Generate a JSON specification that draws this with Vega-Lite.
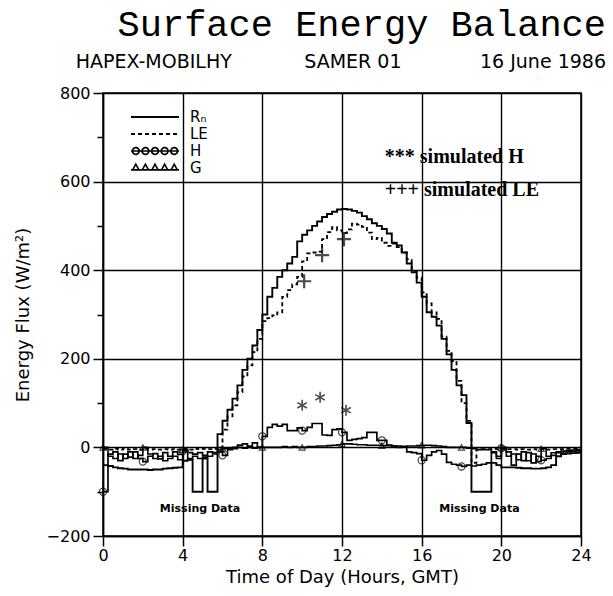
{
  "$schema": "https://vega.github.io/schema/vega-lite/v6.json",
  "width": 478,
  "height": 443,
  "autosize": {"type": "none"},
  "padding": {"left": 103, "top": 93, "right": 32, "bottom": 60},
  "background": "white",
  "config": {
    "view": {"stroke": "black", "strokeWidth": 1.5},
    "font": "DejaVu Sans",
    "axis": {
      "domainColor": "black", "domainWidth": 1.5, "tickColor": "black", "tickWidth": 1.5,
      "gridColor": "black", "gridWidth": 1.4,
      "labelColor": "black", "labelFont": "DejaVu Sans", "labelFontSize": 16,
      "titleColor": "black", "titleFont": "DejaVu Sans", "titleFontSize": 18, "titleFontWeight": "normal"
    }
  },
  "title": {
    "text": "Surface Energy Balance",
    "subtitle": "HAPEX-MOBILHY\u00a0\u00a0\u00a0\u00a0\u00a0\u00a0\u00a0\u00a0\u00a0\u00a0\u00a0\u00a0SAMER 01\u00a0\u00a0\u00a0\u00a0\u00a0\u00a0\u00a0\u00a0\u00a0\u00a0\u00a0\u00a0\u00a016 June 1986",
    "font": "Liberation Mono", "fontSize": 37, "fontWeight": "normal", "color": "black",
    "subtitleFont": "DejaVu Sans", "subtitleFontSize": 19, "subtitleColor": "black",
    "subtitlePadding": 9, "anchor": "end", "frame": "group", "offset": 12, "dx": 25
  },
  "datasets": {
    "flux": [
      {"t": 0, "Rn": -40, "LE": -3, "H": -100, "G": 0},
      {"t": 0.25, "Rn": -42, "LE": -5, "H": -15, "G": -20},
      {"t": 0.5, "Rn": -45, "LE": -3, "H": -10, "G": -25},
      {"t": 0.75, "Rn": -47, "LE": -5, "H": -30, "G": -15},
      {"t": 1, "Rn": -48, "LE": -3, "H": -15, "G": -25},
      {"t": 1.25, "Rn": -50, "LE": -5, "H": -22, "G": -10},
      {"t": 1.5, "Rn": -50, "LE": -4, "H": -10, "G": -25},
      {"t": 1.75, "Rn": -50, "LE": -5, "H": -25, "G": -18},
      {"t": 2, "Rn": -50, "LE": -3, "H": -32, "G": 0},
      {"t": 2.25, "Rn": -51, "LE": -5, "H": -20, "G": -15},
      {"t": 2.5, "Rn": -50, "LE": -4, "H": -14, "G": -25},
      {"t": 2.75, "Rn": -50, "LE": -5, "H": -26, "G": -20},
      {"t": 3, "Rn": -48, "LE": -4, "H": -12, "G": -30},
      {"t": 3.25, "Rn": -47, "LE": -5, "H": -20, "G": -25},
      {"t": 3.5, "Rn": -46, "LE": -4, "H": -10, "G": -20},
      {"t": 3.75, "Rn": -45, "LE": -5, "H": -16, "G": -28},
      {"t": 4, "Rn": -30, "LE": -3, "H": -8, "G": -5},
      {"t": 4.25, "Rn": -28, "LE": -5, "H": -12, "G": -25},
      {"t": 4.5, "Rn": -100, "LE": -3, "H": -15, "G": -20},
      {"t": 4.75, "Rn": -100, "LE": -4, "H": -12, "G": -25},
      {"t": 5, "Rn": -25, "LE": -3, "H": -18, "G": -22},
      {"t": 5.25, "Rn": -100, "LE": -4, "H": -10, "G": -20},
      {"t": 5.5, "Rn": -100, "LE": -3, "H": -12, "G": -15},
      {"t": 5.75, "Rn": 30, "LE": 0, "H": -5, "G": -10},
      {"t": 6, "Rn": 60, "LE": 40, "H": -18, "G": -3},
      {"t": 6.25, "Rn": 85, "LE": 70, "H": -5, "G": -2},
      {"t": 6.5, "Rn": 110, "LE": 95, "H": 0, "G": -3},
      {"t": 6.75, "Rn": 140, "LE": 125, "H": 5, "G": 0},
      {"t": 7, "Rn": 175, "LE": 160, "H": 8, "G": -2},
      {"t": 7.25, "Rn": 200, "LE": 185, "H": 3, "G": 0},
      {"t": 7.5, "Rn": 230, "LE": 215, "H": 10, "G": -2},
      {"t": 7.75, "Rn": 265, "LE": 245, "H": 0, "G": 0},
      {"t": 8, "Rn": 300, "LE": 285, "H": 25, "G": 0},
      {"t": 8.25, "Rn": 340, "LE": 292, "H": 45, "G": 0},
      {"t": 8.5, "Rn": 360, "LE": 298, "H": 52, "G": 0},
      {"t": 8.75, "Rn": 385, "LE": 305, "H": 48, "G": 0},
      {"t": 9, "Rn": 400, "LE": 340, "H": 52, "G": 2},
      {"t": 9.25, "Rn": 415, "LE": 355, "H": 38, "G": 0},
      {"t": 9.5, "Rn": 430, "LE": 368, "H": 38, "G": 2},
      {"t": 9.75, "Rn": 465, "LE": 385, "H": 44, "G": 0},
      {"t": 10, "Rn": 480, "LE": 420, "H": 38, "G": 0},
      {"t": 10.25, "Rn": 490, "LE": 438, "H": 45, "G": 2},
      {"t": 10.5, "Rn": 500, "LE": 440, "H": 54, "G": 2},
      {"t": 10.75, "Rn": 510, "LE": 442, "H": 54, "G": 3},
      {"t": 11, "Rn": 520, "LE": 470, "H": 28, "G": 3},
      {"t": 11.25, "Rn": 527, "LE": 486, "H": 27, "G": 4},
      {"t": 11.5, "Rn": 532, "LE": 497, "H": 40, "G": 5},
      {"t": 11.75, "Rn": 537, "LE": 490, "H": 42, "G": 6},
      {"t": 12, "Rn": 538, "LE": 484, "H": 34, "G": 8},
      {"t": 12.25, "Rn": 537, "LE": 492, "H": 16, "G": 8},
      {"t": 12.5, "Rn": 534, "LE": 505, "H": 18, "G": 7},
      {"t": 12.75, "Rn": 530, "LE": 503, "H": 20, "G": 6},
      {"t": 13, "Rn": 522, "LE": 498, "H": 22, "G": 6},
      {"t": 13.25, "Rn": 515, "LE": 485, "H": 34, "G": 5},
      {"t": 13.5, "Rn": 506, "LE": 470, "H": 34, "G": 5},
      {"t": 13.75, "Rn": 500, "LE": 473, "H": 16, "G": 5},
      {"t": 14, "Rn": 493, "LE": 462, "H": 16, "G": 4},
      {"t": 14.25, "Rn": 483, "LE": 455, "H": 5, "G": 4},
      {"t": 14.5, "Rn": 462, "LE": 460, "H": 3, "G": 3},
      {"t": 14.75, "Rn": 456, "LE": 452, "H": 0, "G": 3},
      {"t": 15, "Rn": 440, "LE": 440, "H": 2, "G": 2},
      {"t": 15.25, "Rn": 415, "LE": 425, "H": -10, "G": 3},
      {"t": 15.5, "Rn": 395, "LE": 398, "H": -12, "G": 3},
      {"t": 15.75, "Rn": 372, "LE": 383, "H": -14, "G": 4},
      {"t": 16, "Rn": 340, "LE": 350, "H": -29, "G": 5},
      {"t": 16.25, "Rn": 305, "LE": 325, "H": -18, "G": 5},
      {"t": 16.5, "Rn": 295, "LE": 305, "H": -10, "G": 4},
      {"t": 16.75, "Rn": 275, "LE": 290, "H": -7, "G": 3},
      {"t": 17, "Rn": 245, "LE": 250, "H": -15, "G": 2},
      {"t": 17.25, "Rn": 210, "LE": 218, "H": -34, "G": 0},
      {"t": 17.5, "Rn": 175, "LE": 195, "H": -38, "G": 0},
      {"t": 17.75, "Rn": 140, "LE": 150, "H": -40, "G": 0},
      {"t": 18, "Rn": 118, "LE": 100, "H": -43, "G": 0},
      {"t": 18.25, "Rn": 55, "LE": 60, "H": -40, "G": -2},
      {"t": 18.5, "Rn": -100, "LE": -35, "H": -42, "G": -3},
      {"t": 18.75, "Rn": -100, "LE": -5, "H": -40, "G": -5},
      {"t": 19, "Rn": -100, "LE": -4, "H": -38, "G": -5},
      {"t": 19.25, "Rn": -100, "LE": -4, "H": -35, "G": -5},
      {"t": 19.5, "Rn": -35, "LE": -3, "H": -12, "G": -10},
      {"t": 19.75, "Rn": -40, "LE": -4, "H": -20, "G": -25},
      {"t": 20, "Rn": -45, "LE": -3, "H": -2, "G": 0},
      {"t": 20.25, "Rn": -45, "LE": -4, "H": -10, "G": -20},
      {"t": 20.5, "Rn": -45, "LE": -4, "H": -40, "G": -15},
      {"t": 20.75, "Rn": -46, "LE": -5, "H": -15, "G": -28},
      {"t": 21, "Rn": -47, "LE": -4, "H": -30, "G": -10},
      {"t": 21.25, "Rn": -47, "LE": -5, "H": -12, "G": -30},
      {"t": 21.5, "Rn": -48, "LE": -4, "H": -35, "G": -15},
      {"t": 21.75, "Rn": -48, "LE": -5, "H": -20, "G": -32},
      {"t": 22, "Rn": -47, "LE": -4, "H": -29, "G": -3},
      {"t": 22.25, "Rn": -45, "LE": -5, "H": -25, "G": -20},
      {"t": 22.5, "Rn": -40, "LE": -4, "H": -18, "G": -12},
      {"t": 22.75, "Rn": -20, "LE": -4, "H": -12, "G": -10},
      {"t": 23, "Rn": -15, "LE": -4, "H": -10, "G": -8},
      {"t": 23.25, "Rn": -14, "LE": -3, "H": -10, "G": -7},
      {"t": 23.5, "Rn": -13, "LE": -3, "H": -9, "G": -6},
      {"t": 23.75, "Rn": -12, "LE": -3, "H": -8, "G": -5},
      {"t": 24, "Rn": -12, "LE": -3, "H": -8, "G": -5}
    ],
    "simH": [
      {"t": 10.0, "v": 95},
      {"t": 10.9, "v": 113},
      {"t": 12.2, "v": 84}
    ],
    "simLE": [
      {"t": 10.1, "v": 375},
      {"t": 11.0, "v": 434},
      {"t": 12.1, "v": 470}
    ]
  },
  "layer": [
    {
      "data": {"name": "flux"},
      "transform": [{"fold": ["Rn", "LE", "H", "G"], "as": ["series", "value"]}],
      "mark": {"type": "line", "interpolate": "step-after", "color": "black", "clip": true},
      "encoding": {
        "x": {
          "field": "t", "type": "quantitative",
          "scale": {"domain": [0, 24], "nice": false},
          "axis": {
            "title": "Time of Day (Hours, GMT)",
            "values": [0,1,2,3,4,5,6,7,8,9,10,11,12,13,14,15,16,17,18,19,20,21,22,23,24],
            "labelExpr": "datum.value % 2 === 0 ? datum.label : ''",
            "tickSize": {"condition": {"test": "datum.value % 2 === 0", "value": 10}, "value": 6},
            "grid": true,
            "gridOpacity": {"condition": {"test": "datum.value % 4 === 0", "value": 1}, "value": 0},
            "labelPadding": 1, "labelFlush": false, "titlePadding": 5
          }
        },
        "y": {
          "field": "value", "type": "quantitative",
          "scale": {"domain": [-200, 800], "nice": false},
          "axis": {
            "title": "Energy Flux (W/m²)",
            "values": [-200,-150,-100,-50,0,50,100,150,200,250,300,350,400,450,500,550,600,650,700,750,800],
            "labelExpr": "datum.value % 200 === 0 ? datum.label : ''",
            "tickSize": {"condition": {"test": "datum.value % 200 === 0", "value": 10}, "value": 6},
            "grid": true,
            "gridOpacity": {"condition": {"test": "datum.value % 200 === 0", "value": 1}, "value": 0},
            "labelPadding": 3, "labelFlush": false, "titlePadding": 14
          }
        },
        "strokeDash": {
          "field": "series", "type": "nominal",
          "scale": {"domain": ["Rn", "LE", "H", "G"], "range": [[1, 0], [4, 3], [1, 0], [1, 0]]},
          "legend": {
            "title": null, "orient": "none", "legendX": 43, "legendY": 15,
            "padding": 0, "rowPadding": 0, "symbolSize": 256, "symbolStrokeWidth": 1.3,
            "symbolStrokeColor": "black", "symbolFillColor": "transparent",
            "labelFontSize": 15, "labelColor": "black", "labelOffset": 26, "labelFont": "DejaVu Sans",
            "labelExpr": "datum.value === 'Rn' ? 'Rₙ' : datum.value",
            "encode": {
              "symbols": {
                "update": {
                  "shape": {"signal": "datum.value === 'H' ? 'M-3,0H3M-1.98,0A0.42,0.42,0,1,1,-2.82,0A0.42,0.42,0,1,1,-1.98,0M-0.78,0A0.42,0.42,0,1,1,-1.62,0A0.42,0.42,0,1,1,-0.78,0M0.42,0A0.42,0.42,0,1,1,-0.42,0A0.42,0.42,0,1,1,0.42,0M1.62,0A0.42,0.42,0,1,1,0.78,0A0.42,0.42,0,1,1,1.62,0M2.82,0A0.42,0.42,0,1,1,1.98,0A0.42,0.42,0,1,1,2.82,0' : datum.value === 'G' ? 'M-3,0.24H3M-2.79,0.24L-2.4,-0.48L-2.01,0.24ZM-1.59,0.24L-1.2,-0.48L-0.81,0.24ZM-0.39,0.24L0,-0.48L0.39,0.24ZM0.81,0.24L1.2,-0.48L1.59,0.24ZM2.01,0.24L2.4,-0.48L2.79,0.24Z' : 'M-3,0H3'"}
                }
              }
            }
          }
        },
        "strokeWidth": {
          "field": "series", "type": "nominal",
          "scale": {"domain": ["Rn", "LE", "H", "G"], "range": [1.9, 1.6, 1.3, 1.2]},
          "legend": null
        }
      }
    },
    {
      "data": {"name": "flux"},
      "transform": [{"filter": "datum.t % 2 === 0 && datum.t < 24"}],
      "mark": {"type": "point", "shape": "circle", "size": 50, "filled": false, "color": "black", "strokeWidth": 1.3},
      "encoding": {
        "x": {"field": "t", "type": "quantitative"},
        "y": {"field": "H", "type": "quantitative"}
      }
    },
    {
      "data": {"name": "flux"},
      "transform": [{"filter": "datum.t % 2 === 0 && datum.t < 24"}],
      "mark": {"type": "point", "shape": "triangle-up", "size": 38, "filled": false, "color": "black", "strokeWidth": 1.2},
      "encoding": {
        "x": {"field": "t", "type": "quantitative"},
        "y": {"field": "G", "type": "quantitative"}
      }
    },
    {
      "data": {"name": "simH"},
      "mark": {"type": "point", "shape": "M0,-1V1M-0.87,-0.5L0.87,0.5M-0.87,0.5L0.87,-0.5", "size": 120, "filled": false, "color": "black", "strokeWidth": 1.6},
      "encoding": {
        "x": {"field": "t", "type": "quantitative"},
        "y": {"field": "v", "type": "quantitative"}
      }
    },
    {
      "data": {"name": "simLE"},
      "mark": {"type": "point", "shape": "M-1,0H1M0,-1V1", "size": 200, "filled": false, "color": "black", "strokeWidth": 2.2},
      "encoding": {
        "x": {"field": "t", "type": "quantitative"},
        "y": {"field": "v", "type": "quantitative"}
      }
    },
    {
      "data": {"values": [{}]},
      "mark": {"type": "text", "align": "left", "baseline": "middle", "font": "Liberation Serif", "fontWeight": "bold", "fontSize": 20, "color": "black"},
      "encoding": {
        "x": {"datum": 14.15},
        "y": {"datum": 655},
        "text": {"value": "*** simulated H"}
      }
    },
    {
      "data": {"values": [{}]},
      "mark": {"type": "text", "align": "left", "baseline": "middle", "font": "Liberation Serif", "fontWeight": "bold", "fontSize": 20, "color": "black"},
      "encoding": {
        "x": {"datum": 14.15},
        "y": {"datum": 581},
        "text": {"value": "+++ simulated LE"}
      }
    },
    {
      "data": {"values": [{}]},
      "mark": {"type": "text", "align": "center", "baseline": "middle", "font": "DejaVu Sans", "fontWeight": "bold", "fontSize": 11, "color": "black"},
      "encoding": {
        "x": {"datum": 4.87},
        "y": {"datum": -138},
        "text": {"value": "Missing Data"}
      }
    },
    {
      "data": {"values": [{}]},
      "mark": {"type": "text", "align": "center", "baseline": "middle", "font": "DejaVu Sans", "fontWeight": "bold", "fontSize": 11, "color": "black"},
      "encoding": {
        "x": {"datum": 18.9},
        "y": {"datum": -138},
        "text": {"value": "Missing Data"}
      }
    }
  ]
}
